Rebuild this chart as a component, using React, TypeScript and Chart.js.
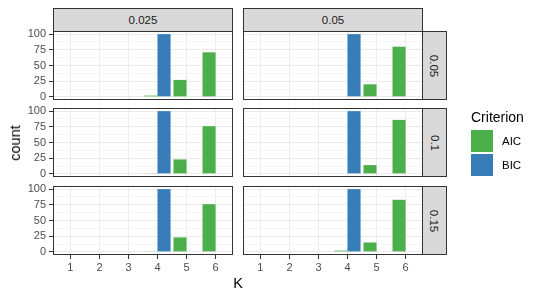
import React, { useEffect, useRef } from 'react';
import { Chart, registerables } from 'chart.js';
Chart.register(...registerables);

// ---- data ----
const K = [1, 2, 3, 4, 5, 6];
const colLabels = ['0.025', '0.05'];
const rowLabels = ['0.05', '0.1', '0.15'];
const yMajorTicks = [0, 25, 50, 75, 100];
const yMinorTicks = [12.5, 37.5, 62.5, 87.5];
const criteria = ['AIC', 'BIC'];
const criterionColors = ['#4DAF4A', '#377EB8'];

const aicRow1Col1 = [0, 0, 0, 2, 27, 71];
const aicRow1Col2 = [0, 0, 0, 0, 20, 80];
const aicRow2Col1 = [0, 0, 0, 1, 23, 76];
const aicRow2Col2 = [0, 0, 0, 0, 14, 86];
const aicRow3Col1 = [0, 0, 0, 1, 23, 76];
const aicRow3Col2 = [0, 0, 0, 2, 15, 83];
const bicRow1Col1 = [0, 0, 0, 100, 0, 0];
const bicRow1Col2 = [0, 0, 0, 100, 0, 0];
const bicRow2Col1 = [0, 0, 0, 100, 0, 0];
const bicRow2Col2 = [0, 0, 0, 100, 0, 0];
const bicRow3Col1 = [0, 0, 0, 100, 0, 0];
const bicRow3Col2 = [0, 0, 0, 100, 0, 0];

const aicPanels = [
  [aicRow1Col1, aicRow1Col2],
  [aicRow2Col1, aicRow2Col2],
  [aicRow3Col1, aicRow3Col2],
];
const bicPanels = [
  [bicRow1Col1, bicRow1Col2],
  [bicRow2Col1, bicRow2Col2],
  [bicRow3Col1, bicRow3Col2],
];

// ---- layout ----
const FONT = '"Liberation Sans", Arial, Helvetica, sans-serif';
const colX = [53, 243];
const rowY = [31, 108, 186];
const PW = 180;
const PH = 69;
const P = 14;
const YW = 33;
const XH = 20;

const borderPlugin = {
  id: 'panelBorder',
  afterDraw(chart: any) {
    const { ctx, chartArea: a } = chart;
    ctx.save();
    ctx.strokeStyle = '#333333';
    ctx.lineWidth = 1;
    ctx.strokeRect(Math.round(a.left) + 0.5, Math.round(a.top) + 0.5, Math.round(a.right - a.left) - 1, Math.round(a.bottom - a.top) - 1);
    ctx.restore();
  },
};

function Panel({ r, c }: { r: number; c: number }) {
  const ref = useRef<HTMLCanvasElement>(null);
  const left = c === 0;
  const bottom = r === 2;
  const cw = PW + 2 * P + (left ? YW : 0);
  const ch = PH + 2 * P + (bottom ? XH : 0);
  const cx = colX[c] - P - (left ? YW : 0);
  const cy = rowY[r] - P;

  useEffect(() => {
    if (!ref.current) return;
    const series = [aicPanels[r][c], bicPanels[r][c]];
    const chart = new Chart(ref.current, {
      type: 'bar',
      data: {
        datasets: criteria.map((name, i) => ({
          label: name,
          data: K.map((k, j) => ({ x: k, y: series[i][j] })),
          backgroundColor: criterionColors[i],
          borderWidth: 0,
          categoryPercentage: 0.9,
          barPercentage: 1,
        })),
      } as any,
      options: {
        animation: false,
        responsive: false,
        maintainAspectRatio: false,
        devicePixelRatio: 1,
        layout: { padding: P },
        plugins: { legend: { display: false }, tooltip: { enabled: false } },
        scales: {
          x: {
            type: 'linear',
            min: 0.4,
            max: 6.6,
            offset: false,
            afterBuildTicks: (s: any) => {
              s.ticks = K.map((v) => ({ value: v }));
            },
            afterFit: (s: any) => {
              s.height = bottom ? XH : 0;
            },
            grid: {
              offset: false,
              color: '#EBEBEB',
              lineWidth: 1,
              drawTicks: bottom,
              tickLength: 4,
              tickColor: '#333333',
              tickWidth: 1,
            },
            border: { display: false },
            ticks: {
              display: bottom,
              color: '#4D4D4D',
              font: { family: FONT, size: 11 },
              padding: 2,
              autoSkip: false,
              maxRotation: 0,
              callback: (v: any) => String(v),
            },
          },
          y: {
            type: 'linear',
            min: -5,
            max: 105,
            afterBuildTicks: (s: any) => {
              s.ticks = [...yMajorTicks, ...yMinorTicks].sort((a, b) => a - b).map((v) => ({ value: v }));
            },
            afterFit: (s: any) => {
              s.width = left ? YW : 0;
            },
            grid: {
              color: (ctx: any) => (ctx.tick && yMajorTicks.includes(ctx.tick.value) ? '#EBEBEB' : '#F4F4F4'),
              lineWidth: 1,
              drawTicks: left,
              tickLength: 4,
              tickWidth: 1,
              tickColor: (ctx: any) => (ctx.tick && yMajorTicks.includes(ctx.tick.value) ? '#333333' : 'rgba(0,0,0,0)'),
            },
            border: { display: false },
            ticks: {
              display: left,
              color: '#4D4D4D',
              font: { family: FONT, size: 11 },
              padding: 3,
              autoSkip: false,
              callback: (v: any) => (yMajorTicks.includes(v) ? String(v) : ''),
            },
          },
        },
      } as any,
      plugins: [borderPlugin],
    });
    return () => chart.destroy();
  }, [r, c]);

  return (
    <canvas
      ref={ref}
      width={cw}
      height={ch}
      style={{ position: 'absolute', left: cx, top: cy, width: cw, height: ch }}
    />
  );
}

export default function App() {
  const stripStyle: React.CSSProperties = {
    position: 'absolute',
    background: '#D9D9D9',
    border: '1px solid #333333',
    boxSizing: 'border-box',
    display: 'flex',
    alignItems: 'center',
    justifyContent: 'center',
    color: '#1A1A1A',
    fontFamily: FONT,
    fontSize: 11.5,
  };
  return (
    <div style={{ position: 'fixed', left: 0, top: 0, width: 539, height: 300, background: '#FFFFFF', overflow: 'hidden', fontFamily: FONT }}>
      {colLabels.map((lab, c) => (
        <div key={'cs' + c} style={{ ...stripStyle, left: colX[c], top: 8, width: PW, height: 24 }}>{lab}</div>
      ))}
      {rowLabels.map((lab, r) => (
        <div key={'rs' + r} style={{ ...stripStyle, left: colX[1] + PW - 1, top: rowY[r], width: 25, height: PH }}>
          <span style={{ transform: 'rotate(90deg)', whiteSpace: 'nowrap', display: 'inline-block' }}>{lab}</span>
        </div>
      ))}
      {[0, 1, 2].map((r) => [0, 1].map((c) => <Panel key={r + '-' + c} r={r} c={c} />))}
      <div style={{ position: 'absolute', left: 15, top: 143, transform: 'translate(-50%,-50%) rotate(-90deg)', fontSize: 14.5, color: '#000', whiteSpace: 'nowrap' }}>count</div>
      <div style={{ position: 'absolute', left: 238, top: 283, transform: 'translate(-50%,-50%)', fontSize: 14.5, color: '#000' }}>K</div>
      <div style={{ position: 'absolute', left: 471, top: 117, transform: 'translateY(-50%)', fontSize: 14, color: '#000', whiteSpace: 'nowrap' }}>Criterion</div>
      {criteria.map((name, i) => (
        <React.Fragment key={name}>
          <div style={{ position: 'absolute', left: 471, top: 130 + i * 24, width: 22, height: 22, background: criterionColors[i] }} />
          <div style={{ position: 'absolute', left: 502, top: 141 + i * 24, transform: 'translateY(-50%)', fontSize: 11.5, color: '#000' }}>{name}</div>
        </React.Fragment>
      ))}
    </div>
  );
}
